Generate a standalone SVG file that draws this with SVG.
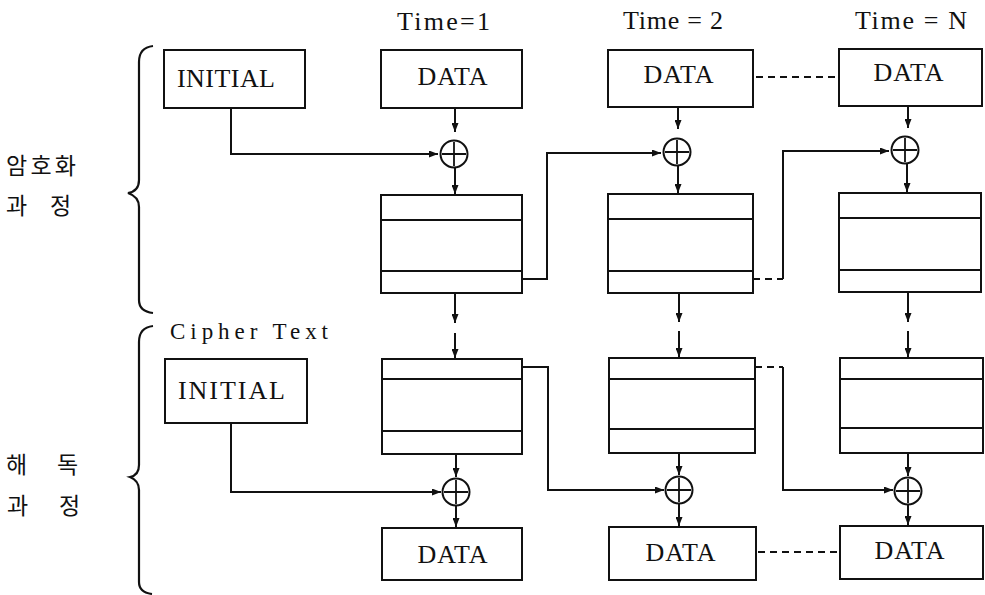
<svg xmlns="http://www.w3.org/2000/svg" width="985" height="595" viewBox="0 0 985 595">
  <defs>
    <marker id="arrow" markerUnits="userSpaceOnUse" markerWidth="9" markerHeight="7" refX="9" refY="3.5" orient="auto">
      <path d="M0,0 L9,3.5 L0,7 z" fill="#111"/>
    </marker>
    <symbol id="xor" overflow="visible">
      <circle cx="0" cy="0" r="13.5" fill="#fff" stroke="#111" stroke-width="2"/>
      <path d="M0,-12 V12 M-12,0 H12" stroke="#111" stroke-width="1.8"/>
    </symbol>
  </defs>
  <style>
    .box { fill: #fff; stroke: #111; stroke-width: 2; }
    .row { stroke: #111; stroke-width: 2; }
    .lbl { font-family: "Liberation Serif", "Times New Roman", serif; fill: #111; }
    .big { font-size: 26px; }
    .time { font-size: 26px; }
    .ko { font-family: "Noto Sans CJK KR", "Noto Sans", sans-serif; font-size: 23px; fill: #111; }
    .wire { fill: none; stroke: #111; stroke-width: 2; }
    .dash { fill: none; stroke: #111; stroke-width: 2; stroke-dasharray: 7 5; }
    .brace { fill: none; stroke: #111; stroke-width: 2.2; }
  </style>
  <rect width="985" height="595" fill="#fff"/>

  <!-- side labels and braces -->
  <g id="encrypt-label">
    <text class="ko" x="6" y="174" textLength="70" lengthAdjust="spacing">암호화</text>
    <text class="ko" x="6" y="214">과</text>
    <text class="ko" x="50" y="214">정</text>
    <path class="brace" d="M153,46 C144,47 139,52 139,62 L139,180 C139,188 134,192 128,193 C134,195 139,199 139,207 L139,300 C139,308 144,312 153,313"/>
  </g>
  <g id="decrypt-label">
    <text class="ko" x="6" y="473">해</text>
    <text class="ko" x="57" y="473">독</text>
    <text class="ko" x="7" y="514">과</text>
    <text class="ko" x="59" y="514">정</text>
    <path class="brace" d="M153,326 C144,327 139,332 139,342 L139,465 C139,472 135,476 130,477 C135,479 139,483 139,490 L139,582 C139,589 144,593 152,594"/>
  </g>

  <!-- time headers -->
  <g id="time-labels" class="lbl time">
    <text x="397" y="30" textLength="93" lengthAdjust="spacing">Time=1</text>
    <text x="623" y="29" textLength="100" lengthAdjust="spacing">Time = 2</text>
    <text x="855" y="29" textLength="112" lengthAdjust="spacing">Time = N</text>
  </g>
  <text id="cipher-text" class="lbl" font-size="23" x="170" y="339" textLength="158" lengthAdjust="spacing">Cipher Text</text>

  <!-- encryption row -->
  <g id="enc-initial">
    <rect class="box" x="164" y="50" width="141" height="58"/>
    <text class="lbl big" x="177" y="87" textLength="98" lengthAdjust="spacing">INITIAL</text>
  </g>
  <g id="enc-data-1">
    <rect class="box" x="381" y="50" width="141" height="58"/>
    <text class="lbl big" x="453" y="85" text-anchor="middle" letter-spacing="1">DATA</text>
  </g>
  <g id="enc-data-2">
    <rect class="box" x="608" y="50" width="145" height="57"/>
    <text class="lbl big" x="679" y="83" text-anchor="middle" letter-spacing="1">DATA</text>
  </g>
  <g id="enc-data-n">
    <rect class="box" x="839" y="49" width="143" height="57"/>
    <text class="lbl big" x="909" y="81" text-anchor="middle" letter-spacing="1">DATA</text>
  </g>
  <g id="enc-xor-1"><use href="#xor" x="454" y="154"/></g>
  <g id="enc-xor-2"><use href="#xor" x="677" y="152"/></g>
  <g id="enc-xor-n"><use href="#xor" x="905" y="150"/></g>
  <g id="enc-reg-1">
    <rect class="box" x="381" y="195" width="141" height="98"/>
    <path class="row" d="M381,220 H522 M381,271 H522"/>
  </g>
  <g id="enc-reg-2">
    <rect class="box" x="608" y="194" width="145" height="99"/>
    <path class="row" d="M608,219 H753 M608,271 H753"/>
  </g>
  <g id="enc-reg-n">
    <rect class="box" x="839" y="193" width="142" height="99"/>
    <path class="row" d="M839,218 H981 M839,270 H981"/>
  </g>

  <!-- decryption row -->
  <g id="dec-initial">
    <rect class="box" x="165" y="359" width="142" height="64"/>
    <text class="lbl big" x="178" y="399" textLength="107" lengthAdjust="spacing">INITIAL</text>
  </g>
  <g id="dec-reg-1">
    <rect class="box" x="382" y="359" width="140" height="95"/>
    <path class="row" d="M382,379 H522 M382,431 H522"/>
  </g>
  <g id="dec-reg-2">
    <rect class="box" x="609" y="358" width="146" height="95"/>
    <path class="row" d="M609,379 H755 M609,429 H755"/>
  </g>
  <g id="dec-reg-n">
    <rect class="box" x="840" y="358" width="143" height="95"/>
    <path class="row" d="M840,379 H983 M840,428 H983"/>
  </g>
  <g id="dec-xor-1"><use href="#xor" x="456" y="492"/></g>
  <g id="dec-xor-2"><use href="#xor" x="679" y="490"/></g>
  <g id="dec-xor-n"><use href="#xor" x="908" y="491"/></g>
  <g id="dec-data-1">
    <rect class="box" x="382" y="528" width="140" height="52"/>
    <text class="lbl big" x="453" y="563" text-anchor="middle" letter-spacing="1">DATA</text>
  </g>
  <g id="dec-data-2">
    <rect class="box" x="609" y="527" width="147" height="53"/>
    <text class="lbl big" x="681" y="561" text-anchor="middle" letter-spacing="1">DATA</text>
  </g>
  <g id="dec-data-n">
    <rect class="box" x="840" y="526" width="143" height="53"/>
    <text class="lbl big" x="910" y="559" text-anchor="middle" letter-spacing="1">DATA</text>
  </g>

  <!-- connectors -->
  <g id="connectors">
    <!-- encryption: data into xor, xor into register -->
    <path class="wire" d="M455,108 V132" marker-end="url(#arrow)"/>
    <path class="wire" d="M455,168 V194" marker-end="url(#arrow)"/>
    <path class="wire" d="M678,107 V129" marker-end="url(#arrow)"/>
    <path class="wire" d="M678,166 V193" marker-end="url(#arrow)"/>
    <path class="wire" d="M908,106 V128" marker-end="url(#arrow)"/>
    <path class="wire" d="M907,164 V192" marker-end="url(#arrow)"/>
    <!-- chaining into the next xor -->
    <path class="wire" d="M231,108 V154 H438" marker-end="url(#arrow)"/>
    <path class="wire" d="M522,279 H547 V153 H661" marker-end="url(#arrow)"/>
    <path class="dash" d="M753,279 H783"/>
    <path class="wire" d="M783,279 V151 H889" marker-end="url(#arrow)"/>
    <path class="dash" d="M756,77 H837"/>

    <!-- cipher text hand-off between rows -->
    <path class="wire" d="M455,293 V323" marker-end="url(#arrow)"/>
    <path class="wire" d="M455,333 V358" marker-end="url(#arrow)"/>
    <path class="wire" d="M679,293 V322" marker-end="url(#arrow)"/>
    <path class="wire" d="M679,331 V357" marker-end="url(#arrow)"/>
    <path class="wire" d="M908,292 V322" marker-end="url(#arrow)"/>
    <path class="wire" d="M908,331 V357" marker-end="url(#arrow)"/>

    <!-- decryption: register into xor, xor into data -->
    <path class="wire" d="M456,454 V477" marker-end="url(#arrow)"/>
    <path class="wire" d="M456,506 V527" marker-end="url(#arrow)"/>
    <path class="wire" d="M679,453 V475" marker-end="url(#arrow)"/>
    <path class="wire" d="M679,504 V526" marker-end="url(#arrow)"/>
    <path class="wire" d="M908,453 V476" marker-end="url(#arrow)"/>
    <path class="wire" d="M908,505 V525" marker-end="url(#arrow)"/>
    <path class="wire" d="M231,423 V492 H441" marker-end="url(#arrow)"/>
    <path class="wire" d="M522,367 H548 V490 H664" marker-end="url(#arrow)"/>
    <path class="dash" d="M755,367 H783"/>
    <path class="wire" d="M783,367 V490 H893" marker-end="url(#arrow)"/>
    <path class="dash" d="M758,552 H838"/>
  </g>
</svg>
